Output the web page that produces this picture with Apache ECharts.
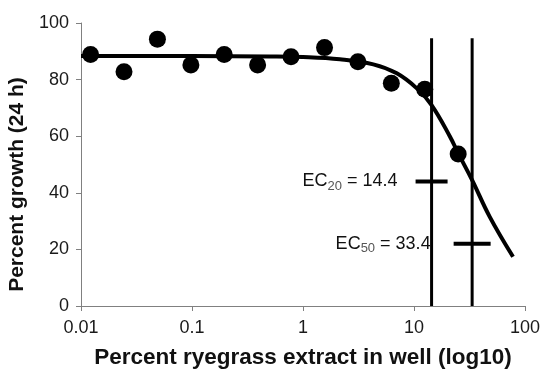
<!DOCTYPE html>
<html>
<head>
<meta charset="utf-8">
<script src="https://cdn.jsdelivr.net/npm/echarts@6/dist/echarts.min.js"></script>
<style>
html,body{margin:0;padding:0;background:#fff;}
#chart{width:541px;height:370px;}
</style>
</head>
<body>
<div id="chart"></div>
<script>
// Observed data (percent extract, percent growth)
const concentrations = [0.0122, 0.0244, 0.0488, 0.0977, 0.195, 0.39, 0.78, 1.5625, 3.125, 6.25, 12.5, 25];
const growth = [88.9, 82.8, 94.3, 85.2, 88.9, 85.2, 88.1, 91.3, 86.3, 78.7, 76.6, 53.7];
// Fitted curve
const fitX = [0.01, 0.1, 0.5, 1, 2.15, 4.3, 7, 10.6, 14.4, 21, 25, 33.4, 48, 78];
const fitY = [88.3, 88.3, 88.2, 88, 87.2, 85.4, 82.2, 76.9, 71, 60, 54, 44.5, 31.6, 17.4];
// EC values
const ecNames = ['20', '50'];
const ecValues = [14.4, 33.4];
const ecMarkY = [44, 22];
const ecLineTop = 94.6;
const xTicks = [0.01, 0.1, 1, 10, 100];
const yTicks = [0, 20, 40, 60, 80, 100];

const chart = echarts.init(document.getElementById('chart'), null, {renderer: 'canvas'});
const font = 'Liberation Sans, Arial, sans-serif';

const series = [];
ecValues.forEach(function (v) {
  series.push({
    type: 'line', data: [[v, 0], [v, ecLineTop]], symbol: 'none',
    lineStyle: {color: '#000', width: 3}, silent: true, z: 3
  });
});
series.push({
  type: 'line', data: fitX.map((x, i) => [x, fitY[i]]), smooth: 0.4, symbol: 'none',
  lineStyle: {color: '#000', width: 4}, z: 4
});
series.push({
  type: 'scatter', data: concentrations.map((x, i) => [x, growth[i]]),
  symbol: 'circle', symbolSize: 17, itemStyle: {color: '#000', opacity: 1}, z: 5
});
ecValues.forEach(function (v, i) {
  series.push({
    type: 'scatter', data: [[v, ecMarkY[i]]], symbol: 'rect', symbolSize: [32 + i * 5, 4],
    itemStyle: {color: '#000', opacity: 1}, z: 6,
    label: {
      show: true, position: 'left', distance: i === 0 ? 18 : 23,
      formatter: '{a|EC}{b|' + ecNames[i] + '}{a| = ' + v + '}',
      rich: {
        a: {fontSize: 18, fontFamily: font, color: '#111', lineHeight: 22},
        b: {fontSize: 13, fontFamily: font, color: '#555', lineHeight: 22, verticalAlign: 'bottom', padding: [8, 0, 0, 0]}
      }
    }
  });
});

chart.setOption({
  animation: false,
  backgroundColor: '#fff',
  grid: {left: 81, right: 16, top: 23, bottom: 64, containLabel: false, outerBoundsMode: 'none'},
  xAxis: {
    type: 'log', logBase: 10, min: xTicks[0], max: xTicks[xTicks.length - 1],
    name: 'Percent ryegrass extract in well (log10)', nameLocation: 'middle', nameGap: 40,
    nameTextStyle: {fontSize: 22.5, fontWeight: 'bold', fontFamily: font, color: '#111'},
    axisLine: {lineStyle: {color: '#808080', width: 1}},
    axisTick: {show: true, length: 5, lineStyle: {color: '#808080'}},
    minorTick: {show: false},
    splitLine: {show: false},
    axisLabel: {fontSize: 18, fontFamily: font, color: '#1a1a1a', margin: 13,
      formatter: function (v) { return String(Math.round(v * 1000) / 1000); }}
  },
  yAxis: {
    type: 'value', min: 0, max: 100, interval: 20,
    name: 'Percent growth (24 h)', nameLocation: 'middle', nameGap: 48,
    nameTextStyle: {fontSize: 21, fontWeight: 'bold', fontFamily: font, color: '#111', padding: [0, 40, 0, 0]},
    axisLine: {show: true, lineStyle: {color: '#808080', width: 1}},
    axisTick: {show: true, length: 5, lineStyle: {color: '#808080'}},
    splitLine: {show: false},
    axisLabel: {fontSize: 18, fontFamily: font, color: '#1a1a1a', margin: 12}
  },
  series: series
});
</script>
</body>
</html>
